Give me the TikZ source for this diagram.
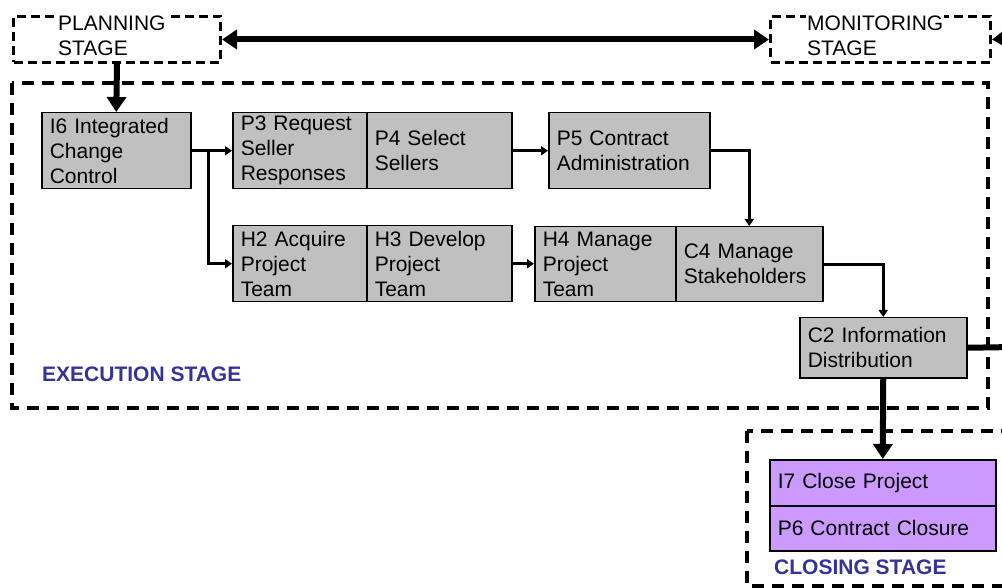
\documentclass[tikz,border=0pt]{standalone}
\usepackage{fontspec}
\setmainfont{Liberation Sans}
\usetikzlibrary{arrows.meta}
\definecolor{procgray}{HTML}{C0C0C0}
\definecolor{closepurple}{HTML}{CC99FF}
\definecolor{stageblue}{HTML}{333399}
\newcommand{\boxfont}{\fontsize{21}{25}\selectfont}
\tikzset{
  smalltip/.tip={Triangle[length=7pt,width=9pt]},
  bigtip/.tip={Triangle[length=15pt,width=19pt]},
  proc/.style={draw, line width=1.5pt, fill=procgray, anchor=north west, align=left,
    inner xsep=8pt, inner ysep=0pt, font=\boxfont},
  closeproc/.style={proc, fill=closepurple},
  stagebox/.style={draw, line width=3pt, dash pattern=on 9pt off 5pt, anchor=north west,
    inner sep=0pt},
  stagetext/.style={fill=white, anchor=north west, align=left, inner xsep=1pt, inner ysep=0pt,
    text depth=0pt, font=\boxfont},
  stageline/.style={line width=4pt, dash pattern=on 12pt off 8pt},
  stagelabel/.style={anchor=west, inner sep=0pt, text=stageblue, font=\boxfont\bfseries},
  conn/.style={line width=3pt, -smalltip},
  bigconn/.style={line width=6pt, -bigtip}
}
\begin{document}
\begin{tikzpicture}[x=1pt,y=-1pt]
\clip (0,0) rectangle (1002,588);
\draw[stageline] (12,83) rectangle (988,408);
\draw[stageline] (747,431) rectangle (1015,586);
\node[stagebox, minimum width=207pt, minimum height=46pt] (planning) at (12,15) {};
\node[stagetext] (planningtext) at (57,13) {\strut PLANNING\\STAGE};
\node[stagebox, minimum width=220pt, minimum height=46pt] (monitoring) at (769,15) {};
\node[stagetext] (monitoringtext) at (806,13) {\strut MONITORING\\STAGE};
\coordinate (offtop) at (1015,38);
\coordinate (offmid) at (1015,347);

\node[proc, text width=133pt, minimum height=76pt] (i6) at (41,112) {I6 Integrated\\Change\\Control};
\node[proc, text width=118pt, minimum height=76pt] (p3) at (232,112) {P3 Request\\Seller\\Responses};
\node[proc, text width=129pt, minimum height=76pt] (p4) at (366,112) {P4 Select\\Sellers};
\node[proc, text width=145pt, minimum height=76pt] (p5) at (548,112) {P5 Contract\\Administration};
\node[proc, text width=118pt, minimum height=76pt] (h2) at (232,225) {H2 Acquire\\Project\\Team};
\node[proc, text width=129pt, minimum height=76pt] (h3) at (366,225) {H3 Develop\\Project\\Team};
\node[proc, text width=125pt, minimum height=75pt] (h4) at (534,226) {H4 Manage\\Project\\Team};
\node[proc, text width=131pt, minimum height=75pt] (c4) at (675,226) {C4 Manage\\Stakeholders};
\node[proc, text width=151pt, minimum height=60pt] (c2) at (799,317) {C2 Information\\Distribution};
\node[closeproc, text width=210pt, minimum height=46pt] (i7) at (769,459) {I7 Close Project};
\node[closeproc, text width=210pt, minimum height=45pt] (p6) at (769,505) {P6 Contract Closure};

\node[stagelabel] (execlabel) at (42,374) {EXECUTION STAGE};
\node[stagelabel] (closelabel) at (774,567) {CLOSING STAGE};

\draw[bigconn, bigtip-bigtip] (planning.east) -- (monitoring.west);
\draw[bigconn] (offtop) -- (monitoring.east);
\draw[bigconn] (planning.south) -- (i6.north);
\draw[conn] (i6.east) -- (p3.west);
\draw[conn] ([xshift=17pt]i6.east) |- (h2.west);
\draw[conn] (p4.east) -- (p5.west);
\draw[conn] (h3.east) -- (h3.east -| h4.west);
\draw[conn] (p5.east) -| (c4.north);
\draw[conn] (c4.east) -| (c2.north);
\draw[line width=6pt] (c2.east) -- (offmid);
\draw[bigconn] (c2.south) -- (i7.north);
\end{tikzpicture}
\end{document}
